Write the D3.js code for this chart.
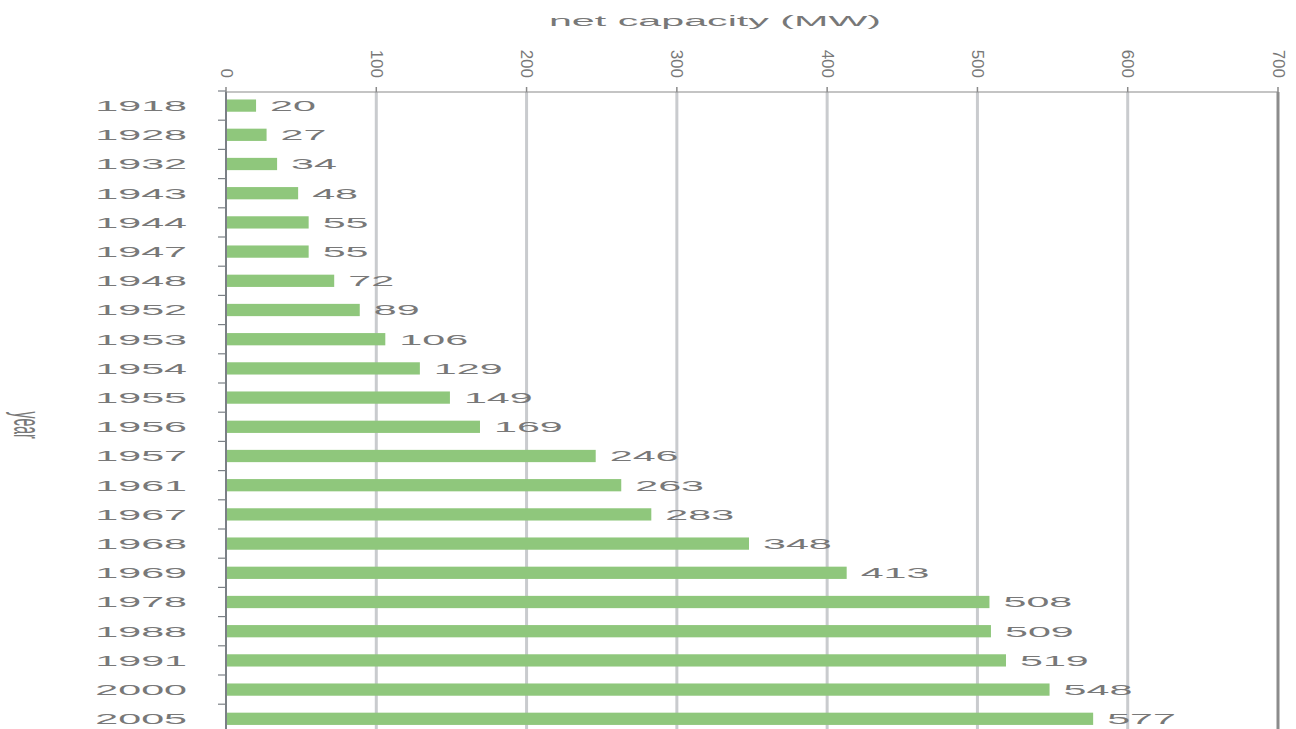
<!DOCTYPE html>
<html>
<head>
<meta charset="utf-8">
<script src="https://cdn.jsdelivr.net/npm/d3@7"></script>
<style>
  body { margin: 0; background: #fff; }
  svg { display: block; }
</style>
</head>
<body>
<div id="chart"></div>
<script>
// years and net capacity (MW)
const years = ['1918', '1928', '1932', '1943', '1944', '1947', '1948', '1952', '1953', '1954', '1955',
  '1956', '1957', '1961', '1967', '1968', '1969', '1978', '1988', '1991', '2000', '2005'];
const capacity = [20, 27, 34, 48, 55, 55, 72, 89, 106, 129, 149,
  169, 246, 263, 283, 348, 413, 508, 509, 519, 548, 577];
const xTicks = [0, 100, 200, 300, 400, 500, 600, 700];

let width = 1296,
  height = 729;

// the picture is stretched sideways, so horizontal text is widened
const stretch = 2.75;
const textColor = '#787878';
const font = "15px 'Liberation Sans', Arial, sans-serif";

let x = d3.scaleLinear()
  .domain([0, 700])
  .range([226, 1278]);

let y = d3.scaleBand()
  .domain(years)
  .range([91, 91 + years.length * 29.2])
  .paddingInner(0.58)
  .paddingOuter(0.29);

const svg = d3.select('#chart').append('svg')
  .attr('width', width)
  .attr('height', height);

// vertical grid lines
svg.append('g')
  .selectAll('line')
  .data(xTicks)
  .enter().append('line')
  .attr('x1', d => x(d))
  .attr('x2', d => x(d))
  .attr('y1', 92)
  .attr('y2', height)
  .attr('stroke', d => d === 700 ? '#8c8c8c' : '#c9cbce')
  .attr('stroke-width', d => d === 0 ? 0 : 3);

// top axis line and ticks
svg.append('line')
  .attr('x1', x(0)).attr('x2', x(700))
  .attr('y1', 92).attr('y2', 92)
  .attr('stroke', '#8a8a8a')
  .attr('stroke-width', 1.2);

svg.append('g')
  .selectAll('line')
  .data(xTicks)
  .enter().append('line')
  .attr('x1', d => x(d)).attr('x2', d => x(d))
  .attr('y1', 87).attr('y2', 92)
  .attr('stroke', '#8a8a8a')
  .attr('stroke-width', 1.5);

svg.append('g')
  .selectAll('text')
  .data(xTicks)
  .enter().append('text')
  .attr('transform', d => `translate(${x(d)}, 78) rotate(90)`)
  .attr('text-anchor', 'end')
  .attr('dominant-baseline', 'central')
  .attr('fill', textColor)
  .style('font', "17px 'Liberation Sans', Arial, sans-serif")
  .text(d => d);

// bars
svg.append('g')
  .selectAll('rect')
  .data(years)
  .enter().append('rect')
  .attr('x', x(0) + 1)
  .attr('y', d => y(d))
  .attr('width', (d, i) => x(capacity[i]) - x(0) - 1)
  .attr('height', y.bandwidth())
  .attr('fill', '#8fc77c');

// left axis line and ticks between bands
svg.append('line')
  .attr('x1', x(0)).attr('x2', x(0))
  .attr('y1', 92).attr('y2', height)
  .attr('stroke', '#7b8086')
  .attr('stroke-width', 2);

const bounds = d3.range(years.length + 1).map(i => y.range()[0] + i * y.step());
svg.append('g')
  .selectAll('line')
  .data(bounds)
  .enter().append('line')
  .attr('x1', 218).attr('x2', x(0))
  .attr('y1', d => d).attr('y2', d => d)
  .attr('stroke', '#7b8086')
  .attr('stroke-width', 1.2);

// year labels
svg.append('g')
  .selectAll('text')
  .data(years)
  .enter().append('text')
  .attr('transform', d => `translate(187, ${y(d) + y.bandwidth() / 2 + 5.3}) scale(${stretch}, 1)`)
  .attr('text-anchor', 'end')
  .attr('fill', textColor)
  .style('font', font)
  .text(d => d);

// value labels
svg.append('g')
  .selectAll('text')
  .data(years)
  .enter().append('text')
  .attr('transform', (d, i) => `translate(${x(capacity[i]) + 14}, ${y(d) + y.bandwidth() / 2 + 5.3}) scale(${stretch}, 1)`)
  .attr('fill', textColor)
  .style('font', font)
  .text((d, i) => capacity[i]);

// axis titles
svg.append('text')
  .attr('transform', `translate(${(x(0) + x(700)) / 2 - 37}, 26) scale(${stretch}, 1)`)
  .attr('text-anchor', 'middle')
  .attr('fill', textColor)
  .style('font', font)
  .text('net capacity (MW)');

svg.append('text')
  .attr('transform', 'translate(28, 425) scale(2.8, 1) rotate(90)')
  .attr('text-anchor', 'middle')
  .attr('dominant-baseline', 'central')
  .attr('fill', textColor)
  .style('font', "14px 'Liberation Sans', Arial, sans-serif")
  .text('year');
</script>
</body>
</html>
